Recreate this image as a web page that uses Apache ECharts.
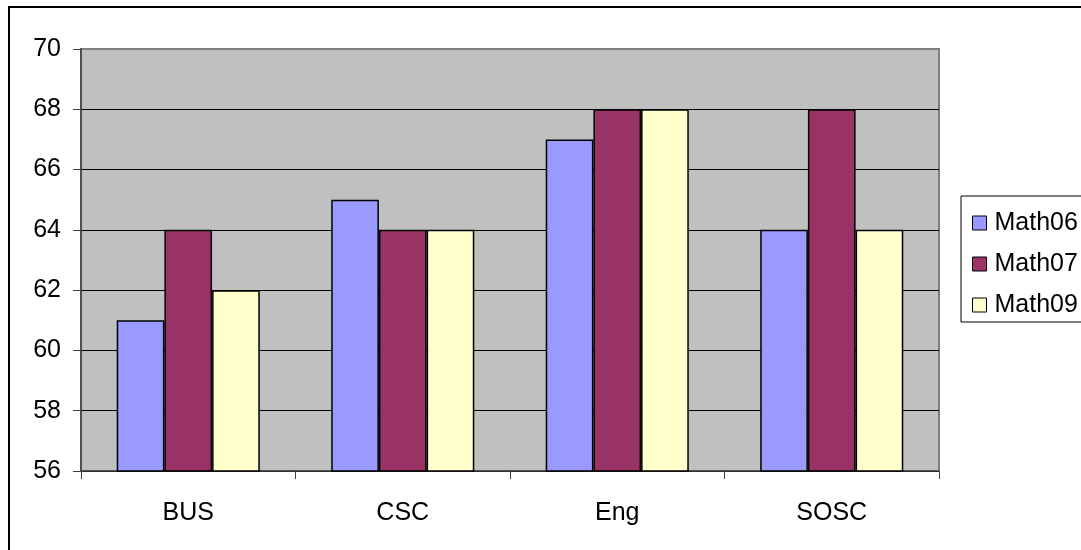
<!DOCTYPE html>
<html>
<head>
<meta charset="utf-8">
<script src="https://cdn.jsdelivr.net/npm/echarts@6/dist/echarts.min.js"></script>
<style>
  html, body { margin: 0; padding: 0; background: #fff; }
  #chart { width: 1081px; height: 550px; }
</style>
</head>
<body>
<div id="chart"></div>
<script>
// Categories and scores per math exam year
const categories = ['BUS', 'CSC', 'Eng', 'SOSC'];
const math06 = [61, 65, 67, 64];
const math07 = [64, 64, 68, 68];
const math09 = [62, 64, 68, 64];
const yTicks = [56, 58, 60, 62, 64, 66, 68, 70];

const FONT = "'Liberation Sans', Arial, sans-serif";

const chart = echarts.init(document.getElementById('chart'), null, { renderer: 'canvas' });

function barSeries(name, data, color) {
  return {
    name: name,
    type: 'bar',
    data: data,
    barGap: '0%',
    barCategoryGap: '33.3%',
    itemStyle: { color: color, borderColor: '#000', borderWidth: 1.5 }
  };
}

// gridlines black, the one at the top matches the plot frame
const splitColors = yTicks.map((v, i) => (i === yTicks.length - 1 ? '#808080' : '#000'));

chart.setOption({
  animation: false,
  backgroundColor: '#fff',
  textStyle: { fontFamily: FONT },
  grid: {
    left: 81, right: 142, top: 49, bottom: 79,
    show: true,
    backgroundColor: '#C0C0C0',
    borderColor: '#808080',
    borderWidth: 2
  },
  legend: {
    orient: 'vertical',
    left: 961,
    top: 196,
    icon: 'rect',
    itemWidth: 14,
    itemHeight: 14,
    itemGap: 15,
    padding: [14, 80, 4, 11],
    backgroundColor: '#fff',
    borderColor: '#000',
    borderWidth: 1,
    borderRadius: 0,
    itemStyle: { borderColor: '#000', borderWidth: 1 },
    textStyle: { fontFamily: FONT, fontSize: 25, color: '#000', lineHeight: 26, padding: [0, 0, 0, 3] },
    data: ['Math06', 'Math07', 'Math09']
  },
  xAxis: {
    type: 'category',
    data: categories,
    axisLine: { show: true, lineStyle: { color: '#404040', width: 1.5 } },
    axisTick: { show: true, length: 8, inside: false, lineStyle: { color: '#404040', width: 1 } },
    axisLabel: { fontFamily: FONT, fontSize: 25, color: '#000', margin: 30 },
    splitLine: { show: false }
  },
  yAxis: {
    type: 'value',
    min: yTicks[0],
    max: yTicks[yTicks.length - 1],
    interval: 2,
    axisLine: { show: true, lineStyle: { color: '#404040', width: 1.5 } },
    axisTick: { show: true, length: 8, inside: false, lineStyle: { color: '#404040', width: 1 } },
    axisLabel: { fontFamily: FONT, fontSize: 25, color: '#000', margin: 20 },
    splitLine: { show: true, lineStyle: { color: splitColors, width: 1 } }
  },
  series: [
    barSeries('Math06', math06, '#9999FF'),
    barSeries('Math07', math07, '#993366'),
    barSeries('Math09', math09, '#FFFFCC')
  ],
  graphic: [
    {
      type: 'rect',
      shape: { x: 9, y: 7, width: 1200, height: 700 },
      style: { fill: 'none', stroke: '#000', lineWidth: 2 },
      silent: true,
      z: 100
    }
  ]
});
</script>
</body>
</html>
